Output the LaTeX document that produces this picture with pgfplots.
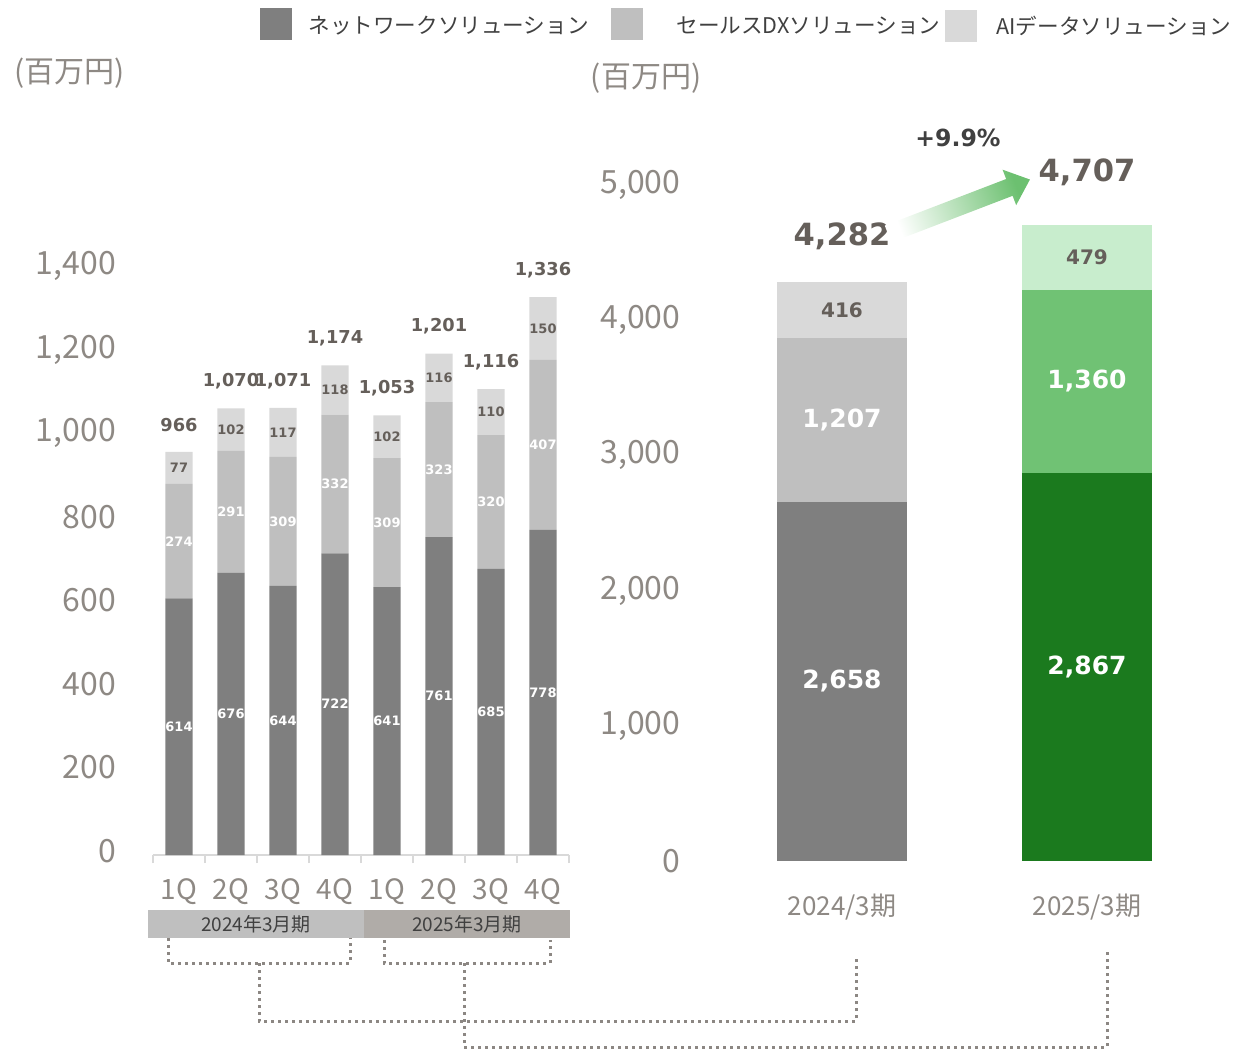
\documentclass[border=0pt]{standalone}
\usepackage{fontspec}
\setmainfont{Noto Sans CJK JP}
\newfontfamily\numfont{DejaVu Sans}
\usepackage{pgfplots}
\usepackage{pgfplotstable}
\pgfplotsset{compat=1.18}

\definecolor{nwgray}{HTML}{7F7F7F}
\definecolor{dxgray}{HTML}{BFBFBF}
\definecolor{aigray}{HTML}{D9D9D9}
\definecolor{nwgreen}{HTML}{1B7A1E}
\definecolor{dxgreen}{HTML}{70C274}
\definecolor{aigreen}{HTML}{C8EDCD}
\definecolor{ticktxt}{HTML}{8E8984}
\definecolor{labtxt}{HTML}{655F5A}
\definecolor{darktxt}{HTML}{404040}
\definecolor{dotcol}{HTML}{8C8783}
\definecolor{band2}{HTML}{B0ACA8}
\definecolor{arrowgreen}{HTML}{6CC070}

\newcommand\tickfont{\fontsize{16}{19}\selectfont}
\newcommand\qfont{\fontsize{14}{17}\selectfont}
\newcommand\xlabfont{\fontsize{13}{16}\selectfont}
\newcommand\legfont{\fontsize{10.8}{13}\selectfont}
\newcommand\bandfont{\fontsize{9.5}{11}\selectfont}
\newcommand\smalllab{\numfont\bfseries\fontsize{6.5}{8}\selectfont}
\newcommand\totlab{\numfont\bfseries\fontsize{8.9}{10}\selectfont}
\newcommand\biglab{\numfont\bfseries\fontsize{12.5}{14}\selectfont}
\newcommand\midlab{\numfont\bfseries\fontsize{10}{12}\selectfont}
\newcommand\hugelab{\numfont\bfseries\fontsize{15.3}{18}\selectfont}

% quarterly sales (million yen)
\pgfplotstableread{
x nw dx ai total
1 614 274 77 966
2 676 291 102 1070
3 644 309 117 1071
4 722 332 118 1174
5 641 309 102 1053
6 761 323 116 1201
7 685 320 110 1116
8 778 407 150 1336
}\quarters

% fiscal year totals
\pgfplotstableread{
x nw dx ai total
0 2658 1207 416 4282
}\fyA
\pgfplotstableread{
x nw dx ai total
1 2867 1360 479 4707
}\fyB

\pgfplotsset{
  leftgeom/.style={at={(76.5pt,-427.5pt)}, anchor=south west, scale only axis,
    width=208pt, height=292.5pt, xmin=0.5, xmax=8.5, ymin=0, ymax=1400, clip=false},
  rightgeom/.style={at={(359.75pt,-430.5pt)}, anchor=south west, scale only axis,
    width=245pt, height=338pt, xmin=-0.5, xmax=1.5, ymin=0, ymax=5000, clip=false},
  labelaxis/.style={hide axis, /pgf/number format/1000 sep={,},
    /pgf/number format/assume math mode=true,
    nodes near coords, point meta=explicit,
    every node near coord/.append style={anchor=center, inner sep=0pt}},
  lab/.style={only marks, mark=none, nodes near coords style={#1}},
}

\begin{document}
\begin{tikzpicture}[x=0.5pt, y=0.5pt]

% ---- left: quarterly stacked bars
\begin{axis}[leftgeom, ybar stacked, bar width=0.52,
  axis x line*=bottom, axis y line*=left,
  y axis line style={draw=none},
  x axis line style={draw=aigray, line width=1pt},
  xtick={1,...,8}, xticklabels={1Q,2Q,3Q,4Q,1Q,2Q,3Q,4Q},
  minor xtick={0.5,1.5,...,8.5},
  ytick={0,200,...,1400},
  major tick style={draw=none}, major tick length=0pt,
  minor tick style={draw=aigray, line width=1pt},
  minor tick length=4pt, tick align=outside,
  scaled y ticks=false,
  /pgf/number format/1000 sep={,}, /pgf/number format/assume math mode=true,
  yticklabel style={font=\tickfont, text=ticktxt, xshift=-15pt, yshift=2pt},
  xticklabel style={font=\qfont, text=ticktxt, yshift=-8.5pt},
]
\addplot[fill=nwgray, draw=none] table[x=x, y=nw]{\quarters};
\addplot[fill=dxgray, draw=none] table[x=x, y=dx]{\quarters};
\addplot[fill=aigray, draw=none] table[x=x, y=ai]{\quarters};
\end{axis}

\begin{axis}[leftgeom, labelaxis]
\addplot[lab={text=white, font=\smalllab}] table[x=x, y expr=\thisrow{nw}/2, meta=nw]{\quarters};
\addplot[lab={text=white, font=\smalllab}] table[x=x, y expr=\thisrow{nw}+\thisrow{dx}/2, meta=dx]{\quarters};
\addplot[lab={text=labtxt, font=\smalllab}] table[x=x, y expr=\thisrow{nw}+\thisrow{dx}+\thisrow{ai}/2, meta=ai]{\quarters};
\addplot[lab={text=labtxt, font=\totlab, yshift=13.5pt}] table[x=x, y expr=\thisrow{nw}+\thisrow{dx}+\thisrow{ai}, meta=total]{\quarters};
\end{axis}

% ---- right: fiscal year stacked bars
\begin{axis}[rightgeom, ybar stacked, bar width=0.53,
  axis x line*=bottom, axis y line*=left, axis line style={draw=none},
  major tick style={draw=none}, major tick length=0pt,
  xtick={0,1}, xticklabels={2024/3期,2025/3期},
  ytick={0,1000,...,5000},
  scaled y ticks=false,
  /pgf/number format/1000 sep={,}, /pgf/number format/assume math mode=true,
  yticklabel style={font=\tickfont, text=ticktxt, xshift=-16pt},
  xticklabel style={font=\xlabfont, text=ticktxt, yshift=-13pt},
]
\addplot[fill=nwgray, draw=none] table[x=x, y=nw]{\fyA};
\addplot[fill=dxgray, draw=none] table[x=x, y=dx]{\fyA};
\addplot[fill=aigray, draw=none] table[x=x, y=ai]{\fyA};
\end{axis}

\begin{axis}[rightgeom, hide axis, ybar stacked, bar width=0.53]
\addplot[fill=nwgreen, draw=none] table[x=x, y=nw]{\fyB};
\addplot[fill=dxgreen, draw=none] table[x=x, y=dx]{\fyB};
\addplot[fill=aigreen, draw=none] table[x=x, y=ai]{\fyB};
\end{axis}

\begin{axis}[rightgeom, labelaxis]
\addplot[lab={text=white, font=\biglab}] table[x=x, y expr=\thisrow{nw}/2, meta=nw]{\fyA};
\addplot[lab={text=white, font=\biglab}] table[x=x, y expr=\thisrow{nw}+\thisrow{dx}/2, meta=dx]{\fyA};
\addplot[lab={text=labtxt, font=\midlab}] table[x=x, y expr=\thisrow{nw}+\thisrow{dx}+\thisrow{ai}/2, meta=ai]{\fyA};
\addplot[lab={text=white, font=\biglab}] table[x=x, y expr=\thisrow{nw}/2, meta=nw]{\fyB};
\addplot[lab={text=white, font=\biglab}] table[x=x, y expr=\thisrow{nw}+\thisrow{dx}/2, meta=dx]{\fyB};
\addplot[lab={text=labtxt, font=\midlab}] table[x=x, y expr=\thisrow{nw}+\thisrow{dx}+\thisrow{ai}/2, meta=ai]{\fyB};
\addplot[lab={text=labtxt, font=\hugelab, yshift=23pt}] table[x=x, y expr=\thisrow{nw}+\thisrow{dx}+\thisrow{ai}, meta=total]{\fyA};
\addplot[lab={text=labtxt, font=\hugelab, yshift=26pt}] table[x=x, y expr=\thisrow{nw}+\thisrow{dx}+\thisrow{ai}, meta=total]{\fyB};
\end{axis}

% ---- growth arrow
\begin{scope}[shift={(888,-234)}, rotate=21]
\shade[left color=white, right color=arrowgreen, shading angle=111]
  (0,-9) -- (130,-9) -- (130,-19) -- (152,0) -- (130,19) -- (130,9) -- (0,9) -- cycle;
\end{scope}
\node[font=\numfont\bfseries\fontsize{11.8}{14}\selectfont, text=darktxt] at (958,-138) {+9.9\%};

% ---- unit labels
\node[font=\fontsize{15}{18}\selectfont, text=ticktxt] at (70,-73) {(百万円)};
\node[font=\fontsize{15}{18}\selectfont, text=ticktxt] at (646,-78) {(百万円)};

% ---- legend
\fill[nwgray] (260,-8) rectangle (292,-40);
\node[anchor=west, inner sep=0pt, font=\legfont, text=darktxt] at (308,-26) {ネットワークソリューション};
\fill[dxgray] (611,-8) rectangle (643,-40);
\node[anchor=west, inner sep=0pt, font=\legfont, text=darktxt] at (676,-26) {セールスDXソリューション};
\fill[aigray] (945,-10) rectangle (977,-42);
\node[anchor=west, inner sep=0pt, font=\legfont, text=darktxt] at (996,-26) {AIデータソリューション};

% ---- fiscal period band
\fill[dxgray] (148,-910) rectangle (364,-938);
\fill[band2] (364,-910) rectangle (570,-938);
\node[font=\bandfont, text=darktxt] at (256,-924) {2024年3月期};
\node[font=\bandfont, text=darktxt] at (467,-924) {2025年3月期};

% ---- dotted connectors
\begin{scope}[draw=dotcol, line width=1.5pt, dash pattern=on 1.5pt off 2pt]
\draw (168,-938) -- (168,-963) -- (350,-963) -- (350,-938);
\draw (384,-940) -- (384,-963) -- (550,-963) -- (550,-940);
\draw (259,-963) -- (259,-1021) -- (856,-1021) -- (856,-957);
\draw (464,-963) -- (464,-1047) -- (1107,-1047) -- (1107,-951);
\end{scope}

\pgfresetboundingbox
\path[use as bounding box] (0,0) rectangle (1236,-1049);
\end{tikzpicture}
\end{document}
